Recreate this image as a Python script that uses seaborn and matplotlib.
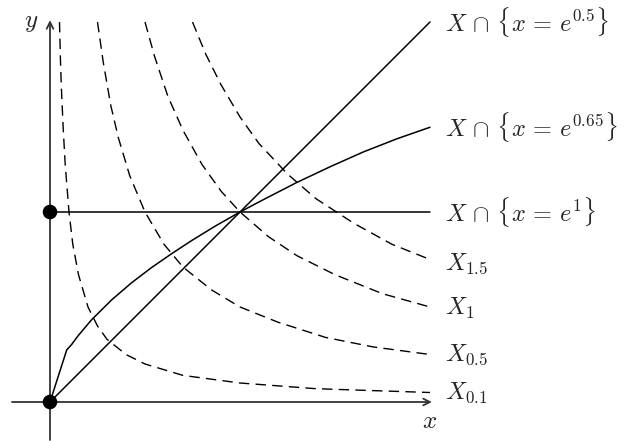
import seaborn as sns
import pandas as pd
import matplotlib.pyplot as plt

# data (unit = intersection point)
diag_x = [0.0, 2.0]
diag_y = [0.0, 2.0]

flat_x = [0.0, 2.0]
flat_y = [1.0, 1.0]

curve_x = [0.0, 0.088, 0.114, 0.149, 0.219, 0.325, 0.430, 0.535, 0.641, 0.746, 0.87, 1.0,
           1.123, 1.298, 1.474, 1.649, 1.825, 2.0]
curve_y = [0.0, 0.274, 0.303, 0.350, 0.433, 0.538, 0.628, 0.708, 0.781, 0.850, 0.926, 1.0,
           1.065, 1.155, 1.238, 1.316, 1.385, 1.446]

level_names = ["0.1", "0.5", "1", "1.5"]
level_x = [
    [0.05, 0.055, 0.06, 0.07, 0.08, 0.1, 0.12, 0.15, 0.2, 0.25, 0.3, 0.4, 0.5, 0.7, 1.0, 1.4, 2.0],
    [0.25, 0.28, 0.32, 0.36, 0.42, 0.5, 0.6, 0.7, 0.85, 1.0, 1.2, 1.45, 1.7, 2.0],
    [0.5, 0.55, 0.62, 0.7, 0.8, 0.9, 1.0, 1.15, 1.3, 1.5, 1.75, 2.0],
    [0.75, 0.82, 0.9, 1.0, 1.1, 1.25, 1.4, 1.6, 1.8, 2.0],
]
level_y = [
    [2.0, 1.8, 1.65, 1.43, 1.25, 1.0, 0.83, 0.67, 0.5, 0.4, 0.33, 0.25, 0.2, 0.14, 0.1, 0.07, 0.05],
    [2.0, 1.79, 1.56, 1.39, 1.19, 1.0, 0.83, 0.71, 0.59, 0.5, 0.42, 0.34, 0.29, 0.25],
    [2.0, 1.82, 1.61, 1.43, 1.25, 1.11, 1.0, 0.87, 0.77, 0.67, 0.57, 0.5],
    [2.0, 1.83, 1.67, 1.5, 1.36, 1.2, 1.07, 0.94, 0.83, 0.75],
]

dot_x = [0.0, 0.0]
dot_y = [0.0, 1.0]

right_labels = [
    (r"$X \,\cap\, \{x \,=\, e^{0.5}\}$", 2.0),
    (r"$X \,\cap\, \{x \,=\, e^{0.65}\}$", 1.446),
    (r"$X \,\cap\, \{x \,=\, e^{1}\}$", 1.0),
    (r"$X_{1.5}$", 0.73),
    (r"$X_{1}$", 0.49),
    (r"$X_{0.5}$", 0.25),
    (r"$X_{0.1}$", 0.05),
]

sns.set_style("white")
plt.rcParams["mathtext.fontset"] = "cm"

fig = plt.figure(figsize=(6.25, 4.41), dpi=100)
ax = fig.add_axes([0, 0, 1, 1])
ax.set_xlim(-50 / 190, 575 / 190)
ax.set_ylim((402 - 441) / 190, 402 / 190)
ax.axis("off")

# axes with arrows
arrow = dict(arrowstyle="->", lw=1.3, color="#333333", shrinkA=0, shrinkB=0, mutation_scale=12)
ax.annotate("", xy=(2.01, 0), xytext=(-0.2, 0), arrowprops=arrow)
ax.annotate("", xy=(0, 2.01), xytext=(0, -0.2), arrowprops=arrow)

# dashed level curves
for name, xs, ys in zip(level_names, level_x, level_y):
    df = pd.DataFrame({"x": xs, "y": ys})
    sns.lineplot(data=df, x="x", y="y", ax=ax, color="black", lw=1.0,
                 sort=False, estimator=None, linestyle=(0, (7.5, 4.5)))

# solid lines
for xs, ys in [(diag_x, diag_y), (flat_x, flat_y), (curve_x, curve_y)]:
    df = pd.DataFrame({"x": xs, "y": ys})
    sns.lineplot(data=df, x="x", y="y", ax=ax, color="black", lw=1.1,
                 sort=False, estimator=None)

sns.scatterplot(x=dot_x, y=dot_y, ax=ax, color="black", s=110, edgecolor="none", zorder=5)

for text, yv in right_labels:
    ax.text(2.08, yv, text, fontsize=17.5, ha="left", va="center")

ax.text(2.0, -0.1, r"$x$", fontsize=18, ha="center", va="center")
ax.text(-0.1, 2.0, r"$y$", fontsize=18, ha="center", va="center")

plt.savefig("out.png", dpi=100)
plt.close()
